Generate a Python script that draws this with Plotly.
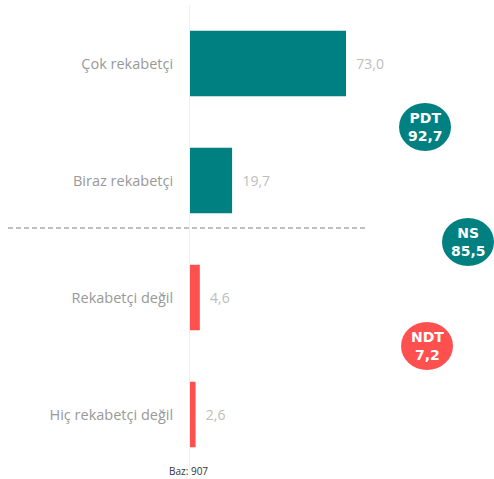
import plotly.graph_objects as go

categories = ["Çok rekabetçi", "Biraz rekabetçi", "Rekabetçi değil", "Hiç rekabetçi değil"]
values = [73.0, 19.7, 4.6, 2.6]
bar_colors = ["#008080", "#008080", "#FF5050", "#FF5050"]
summary_labels = ["PDT", "NS", "NDT"]
summary_values = [92.7, 85.5, 7.2]
summary_colors = ["#008080", "#008080", "#FF5050"]
base_note = "Baz: 907"

def fmt(v):
    return f"{v:.1f}".replace(".", ",")

fig = go.Figure(go.Bar(
    y=categories, x=values, orientation="h",
    marker=dict(color=bar_colors, line=dict(width=0)),
    width=0.56,
    text=["\u00a0\u00a0" + fmt(v) for v in values], textposition="outside",
    textfont=dict(family="Open Sans", size=14, color="#BDBDBD"),
    cliponaxis=False,
))

W, H = 494, 479
L, R, T, B = 190, 0, 5, 6
pw, ph = W - L - R, H - T - B
px_per_unit = 156 / 73.0

def px(x):
    return (x - L) / pw

def py(y):
    return (H - B - y) / ph

fig.update_layout(
    width=W, height=H,
    margin=dict(l=L, r=R, t=T, b=B),
    paper_bgcolor="white", plot_bgcolor="white",
    showlegend=False,
    xaxis=dict(range=[0, pw / px_per_unit], visible=False),
    yaxis=dict(range=[3.5, -0.5], showgrid=False, zeroline=False,
               showline=True, linecolor="#F0F0F0", linewidth=1,
               ticks="", ticklabelstandoff=13,
               tickfont=dict(family="Open Sans", size=14.5, color="#999999")),
)

# dashed separator
fig.add_shape(type="line", xref="paper", yref="paper",
              x0=px(8), x1=px(368), y0=py(228), y1=py(228),
              line=dict(color="#808080", width=1, dash="5px,3px"))

centers = [(425, 127), (468, 242), (427, 346)]
for (cx, cy), lab, val, col in zip(centers, summary_labels, summary_values, summary_colors):
    fig.add_shape(type="circle", xref="paper", yref="paper",
                  xsizemode="pixel", ysizemode="pixel",
                  xanchor=px(cx), yanchor=py(cy),
                  x0=-26, x1=26, y0=-24, y1=24,
                  fillcolor=col, line=dict(color=col, width=0))
    fig.add_annotation(xref="paper", yref="paper", x=px(cx), y=py(cy),
                       text=f"<b>{lab}<br>{fmt(val)}</b>", showarrow=False,
                       font=dict(family="DejaVu Sans", size=14, color="white"),
                       align="center", xanchor="center", yanchor="middle")

fig.add_annotation(xref="paper", yref="paper", x=px(188), y=py(471),
                   text=base_note, showarrow=False,
                   font=dict(family="Open Sans", size=10, color="#333333"),
                   xanchor="center", yanchor="middle")

fig.write_html("out.html")
